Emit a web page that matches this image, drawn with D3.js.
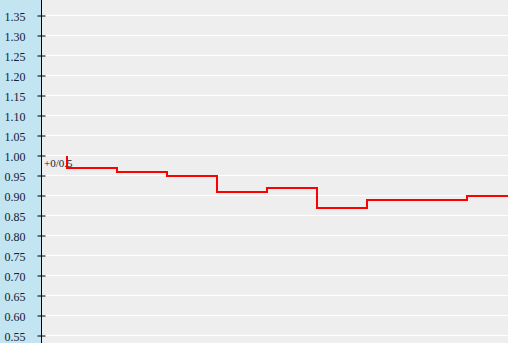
<!DOCTYPE html>
<html>
<head>
<meta charset="utf-8">
<script src="https://cdn.jsdelivr.net/npm/d3@7"></script>
<style>
  html, body { margin: 0; padding: 0; background: #eeeeee; overflow: hidden; }
  svg { display: block; }
</style>
</head>
<body>
<div id="chart"></div>
<script>
// tick labels on the left axis
const yTicks = [1.35, 1.30, 1.25, 1.20, 1.15, 1.10, 1.05, 1.00, 0.95, 0.90,
  0.85, 0.80, 0.75, 0.70, 0.65, 0.60, 0.55]

// step series: opening value, then one value per period
const openValue = 1.00
const periods = [0, 1, 2, 3, 4, 5, 6, 7, 8, 9]
const values = [0.97, 0.96, 0.95, 0.91, 0.92, 0.87, 0.89, 0.89, 0.90, 0.90]
const markerLabel = '+0/0.5'

const width = 508
const height = 343
const axisX = 41

const svg = d3.select('#chart').append('svg')
  .attr('width', width)
  .attr('height', height)

const y = d3.scaleLinear().domain([1.35, 0.55]).range([15, 335])
const x = d3.scaleLinear().domain([0, 8]).range([67, 467])

// left panel
svg.append('rect')
  .attr('x', 0).attr('y', 0)
  .attr('width', axisX).attr('height', height)
  .style('fill', '#c2e5f1')

svg.append('rect')
  .attr('x', axisX).attr('y', 0)
  .attr('width', width - axisX).attr('height', height)
  .style('fill', '#eeeeee')

// grid
svg.append('g')
  .selectAll('line')
  .data(yTicks)
  .enter()
  .append('line')
  .attr('x1', axisX)
  .attr('x2', width)
  .attr('y1', d => Math.round(y(d)) + 0.5)
  .attr('y2', d => Math.round(y(d)) + 0.5)
  .style('stroke', '#ffffff')
  .style('stroke-width', 1)

// axis
const yAxis = d3.axisLeft(y)
  .tickValues(yTicks)
  .tickFormat(d3.format('.2f'))
  .tickSize(0)
  .tickPadding(16)

const axisG = svg.append('g')
  .attr('transform', `translate(${axisX + 0.5}, 0.5)`)
  .call(yAxis)

axisG.select('.domain').remove()
axisG.selectAll('text')
  .attr('dy', '0.32em')
  .attr('y', 1)
  .style('font-family', '"Liberation Serif", serif')
  .style('font-size', '12px')
  .style('fill', '#14203a')

axisG.selectAll('.tick')
  .append('line')
  .attr('x1', -4)
  .attr('x2', 4)
  .style('stroke', '#000')

svg.append('line')
  .attr('x1', axisX + 0.5).attr('x2', axisX + 0.5)
  .attr('y1', 0).attr('y2', height)
  .style('stroke', '#000')

// marker label
svg.append('text')
  .attr('x', 44)
  .attr('y', 167)
  .text(markerLabel)
  .style('font-family', '"Liberation Serif", serif')
  .style('font-size', '11px')
  .style('fill', '#222')

// step line
const points = [[periods[0], openValue]].concat(periods.map((p, i) => [p, values[i]]))

const line = d3.line()
  .x(d => x(d[0]))
  .y(d => y(d[1]))
  .curve(d3.curveStepAfter)

svg.append('path')
  .datum(points)
  .attr('transform', 'translate(0, 1)')
  .attr('d', line)
  .style('fill', 'none')
  .style('stroke', '#ff0000')
  .style('stroke-width', 2)
</script>
</body>
</html>
